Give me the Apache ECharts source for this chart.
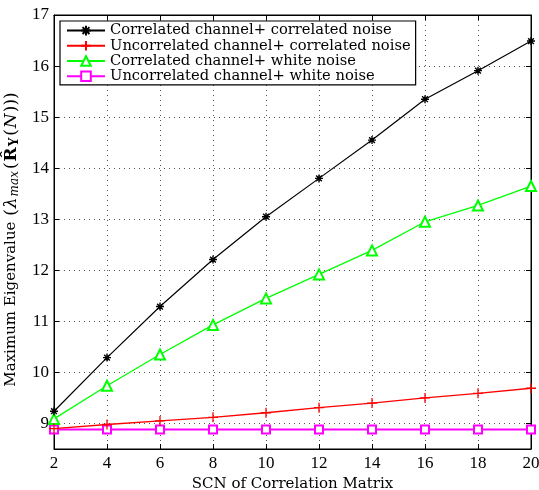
<!DOCTYPE html>
<html><head><meta charset="utf-8">
<script src="https://cdn.jsdelivr.net/npm/echarts@6/dist/echarts.min.js"></script>
<style>html,body{margin:0;padding:0;background:#fff}#c{width:539px;height:490px}</style>
</head><body><div id="c"></div>
<script>
const xValues = [2, 4, 6, 8, 10, 12, 14, 16, 18, 20];
const corrChanCorrNoise = [9.24, 10.29, 11.29, 12.21, 13.05, 13.80, 14.55, 15.35, 15.91, 16.49];
const uncorrChanCorrNoise = [8.90, 8.98, 9.05, 9.12, 9.21, 9.31, 9.40, 9.50, 9.59, 9.69];
const corrChanWhiteNoise = [9.09, 9.74, 10.35, 10.93, 11.45, 11.92, 12.39, 12.95, 13.27, 13.65];
const uncorrChanWhiteNoise = [8.88, 8.88, 8.88, 8.88, 8.88, 8.88, 8.88, 8.88, 8.88, 8.88];
const seriesNames = ['Correlated channel+ correlated noise', 'Uncorrelated channel+ correlated noise', 'Correlated channel+ white noise', 'Uncorrelated channel+ white noise'];
const xTicks = [2, 4, 6, 8, 10, 12, 14, 16, 18, 20];
const yTicks = [9, 10, 11, 12, 13, 14, 15, 16, 17];

const FONT = "'Liberation Serif', 'Times New Roman', serif";
const WFONT = "'DejaVu Serif', serif";
const pair = arr => arr.map((v, i) => [xValues[i], v]);
const star = 'path://M0,-5L0,5M-5,0L5,0M-3.6,-3.6L3.6,3.6M-3.6,3.6L3.6,-3.6';
const plus = 'path://M0,-5L0,5M-5,0L5,0';

const chart = echarts.init(document.getElementById('c'), null, {renderer: 'canvas'});
const gridLine = {show: true, lineStyle: {color: '#555', type: [1, 4], width: 1}};
const xBase = {type: 'value', min: 2, max: 20, interval: 2};
const yBase = {type: 'value', min: 8.5, max: 17, splitNumber: 8};
chart.setOption({
  animation: false,
  grid: {left: 54, right: 8, top: 15, bottom: 41, show: true, borderColor: '#000', borderWidth: 1,
    backgroundColor: 'transparent', containLabel: false, outerBoundsMode: 'none'},
  legend: {
    show: true, left: 60, top: 21, orient: 'vertical', itemGap: 0, itemWidth: 38, itemHeight: 12,
    padding: [2, 5, 1, 6],
    backgroundColor: '#fff', borderColor: '#000', borderWidth: 1.2,
    textStyle: {fontFamily: WFONT, fontSize: 14.7, color: '#000', lineHeight: 15.2},
    data: seriesNames
  },
  xAxis: [
    Object.assign({}, xBase, {
      position: 'bottom',
      name: 'SCN of Correlation Matrix', nameLocation: 'middle', nameGap: 23,
      nameTextStyle: {fontFamily: WFONT, fontSize: 15, color: '#000'},
      axisLine: {show: true, lineStyle: {color: '#000', width: 1}},
      axisTick: {show: true, inside: true, length: 5, lineStyle: {color: '#000'}},
      axisLabel: {fontFamily: FONT, fontSize: 17, color: '#000', margin: 6,
        formatter: v => (xTicks.indexOf(v) >= 0 ? String(v) : '')},
      splitLine: gridLine
    }),
    Object.assign({}, xBase, {
      position: 'top',
      axisLine: {show: true, lineStyle: {color: '#000', width: 1}},
      axisTick: {show: true, inside: true, length: 5, lineStyle: {color: '#000'}},
      axisLabel: {show: false}, splitLine: {show: false}
    })
  ],
  yAxis: [
    Object.assign({}, yBase, {
      position: 'left',
      name: '{n|Maximum Eigenvalue }{p|(}{i|λ}{s|max}{p|(}{b|R̂}{bs|Y}{p|(}{i|N}{p|)))}',
      nameLocation: 'middle', nameGap: 29,
      nameTextStyle: {fontFamily: WFONT, fontSize: 15, color: '#000', padding: [0, 14, 0, 0],
        rich: {
          n: {fontFamily: WFONT, fontSize: 15, color: '#000'},
          p: {fontFamily: WFONT, fontSize: 17, color: '#000', padding: [0, 1, 0, 1]},
          i: {fontFamily: WFONT, fontSize: 17, fontStyle: 'italic', color: '#000'},
          s: {fontFamily: WFONT, fontSize: 12, fontStyle: 'italic', color: '#000', padding: [8, 1, 0, 1]},
          b: {fontFamily: WFONT, fontSize: 17, fontWeight: 'bold', color: '#000'},
          bs: {fontFamily: WFONT, fontSize: 12, fontWeight: 'bold', color: '#000', padding: [8, 1, 0, 1]}
        }},
      axisLine: {show: true, lineStyle: {color: '#000', width: 1}},
      axisTick: {show: true, inside: true, length: 5, lineStyle: {color: '#000'}},
      axisLabel: {fontFamily: FONT, fontSize: 17, color: '#000', margin: 5, showMinLabel: false,
        formatter: v => (yTicks.indexOf(v) >= 0 ? String(v) : '')},
      splitLine: gridLine
    }),
    Object.assign({}, yBase, {
      position: 'right',
      axisLine: {show: true, lineStyle: {color: '#000', width: 1}},
      axisTick: {show: true, inside: true, length: 5, lineStyle: {color: '#000'}},
      axisLabel: {show: false}, splitLine: {show: false}
    })
  ],
  series: [
    {name: seriesNames[0], type: 'line', data: pair(corrChanCorrNoise), symbol: star, symbolSize: 8,
      lineStyle: {color: '#000', width: 1.2}, itemStyle: {color: '#000', borderColor: '#000', borderWidth: 1.4}, z: 5},
    {name: seriesNames[1], type: 'line', data: pair(uncorrChanCorrNoise), symbol: plus, symbolSize: 10,
      lineStyle: {color: '#ff0000', width: 1.3}, itemStyle: {color: '#ff0000', borderColor: '#ff0000', borderWidth: 1.3}, z: 4},
    {name: seriesNames[2], type: 'line', data: pair(corrChanWhiteNoise), symbol: 'emptyTriangle', symbolSize: 10,
      lineStyle: {color: '#00ff00', width: 1.3}, itemStyle: {color: '#00ff00', borderColor: '#00ff00', borderWidth: 1.2}, z: 3},
    {name: seriesNames[3], type: 'line', data: pair(uncorrChanWhiteNoise), symbol: 'emptyRect', symbolSize: 8,
      lineStyle: {color: '#ff00ff', width: 2}, itemStyle: {color: '#ff00ff', borderColor: '#ff00ff', borderWidth: 1.2}, z: 2}
  ]
});
</script></body></html>
